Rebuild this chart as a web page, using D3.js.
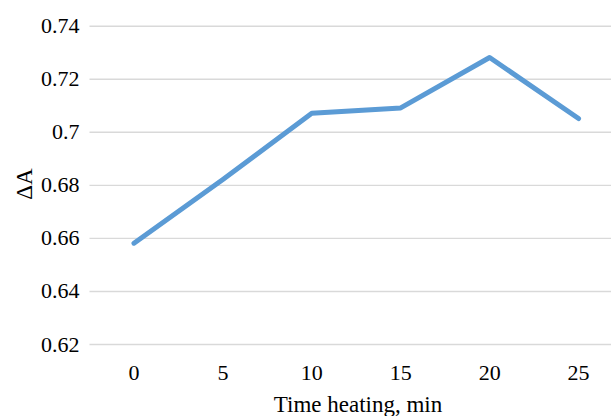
<!DOCTYPE html>
<html>
<head>
<meta charset="utf-8">
<script src="https://cdn.jsdelivr.net/npm/d3@7"></script>
<style>
	html, body { margin: 0; padding: 0; background: #fff; }
	svg { display: block; }
</style>
</head>
<body>
<svg id="chart" width="611" height="416"></svg>
<script>
const minutes = ['0', '5', '10', '15', '20', '25'];
const deltaA = [0.658, 0.682, 0.707, 0.709, 0.728, 0.705];
const yTicks = [0.62, 0.64, 0.66, 0.68, 0.7, 0.72, 0.74];

const FONT = '"Liberation Serif", "Times New Roman", serif';
const svg = d3.select('#chart');

// plot area runs past the right edge of the picture, as in the original
const x = d3.scaleBand().domain(minutes).range([89.5, 623]).padding(0);
const y = d3.scaleLinear().domain([0.62, 0.74]).range([344, 25.7]);

// gridlines + y labels
const yAxis = svg
	.append('g')
	.attr('transform', 'translate(89.5,0)')
	.call(
		d3
			.axisLeft(y)
			.tickValues(yTicks)
			.tickSizeInner(-(623 - 89.5))
			.tickSizeOuter(0)
			.tickPadding(10)
			.tickFormat(d3.format('~g'))
	);
yAxis.select('.domain').remove();
yAxis.selectAll('.tick line').attr('stroke', '#d9d9d9').attr('stroke-width', 1.4);
yAxis
	.selectAll('.tick text')
	.style('font-family', FONT)
	.style('font-size', '22px')
	.style('fill', '#000');

// x labels
const xAxis = svg
	.append('g')
	.attr('transform', 'translate(0,344)')
	.call(d3.axisBottom(x).tickSize(0).tickPadding(20));
xAxis.select('.domain').remove();
xAxis
	.selectAll('.tick text')
	.style('font-family', FONT)
	.style('font-size', '22px')
	.style('fill', '#000');

// series
const line = d3
	.line()
	.x((d, i) => x(minutes[i]) + x.bandwidth() / 2)
	.y((d) => y(d));

svg.append('path')
	.datum(deltaA)
	.attr('fill', 'none')
	.attr('stroke', '#5b9bd5')
	.attr('stroke-width', 5)
	.attr('stroke-linecap', 'round')
	.attr('stroke-linejoin', 'round')
	.attr('d', line);

// axis titles
svg.append('text')
	.attr('x', 358)
	.attr('y', 412)
	.attr('text-anchor', 'middle')
	.style('font-family', FONT)
	.style('font-size', '23px')
	.text('Time heating, min');

svg.append('text')
	.attr('transform', 'translate(32,184) rotate(-90)')
	.attr('text-anchor', 'middle')
	.style('font-family', FONT)
	.style('font-size', '23px')
	.text('ΔA');
</script>
</body>
</html>
